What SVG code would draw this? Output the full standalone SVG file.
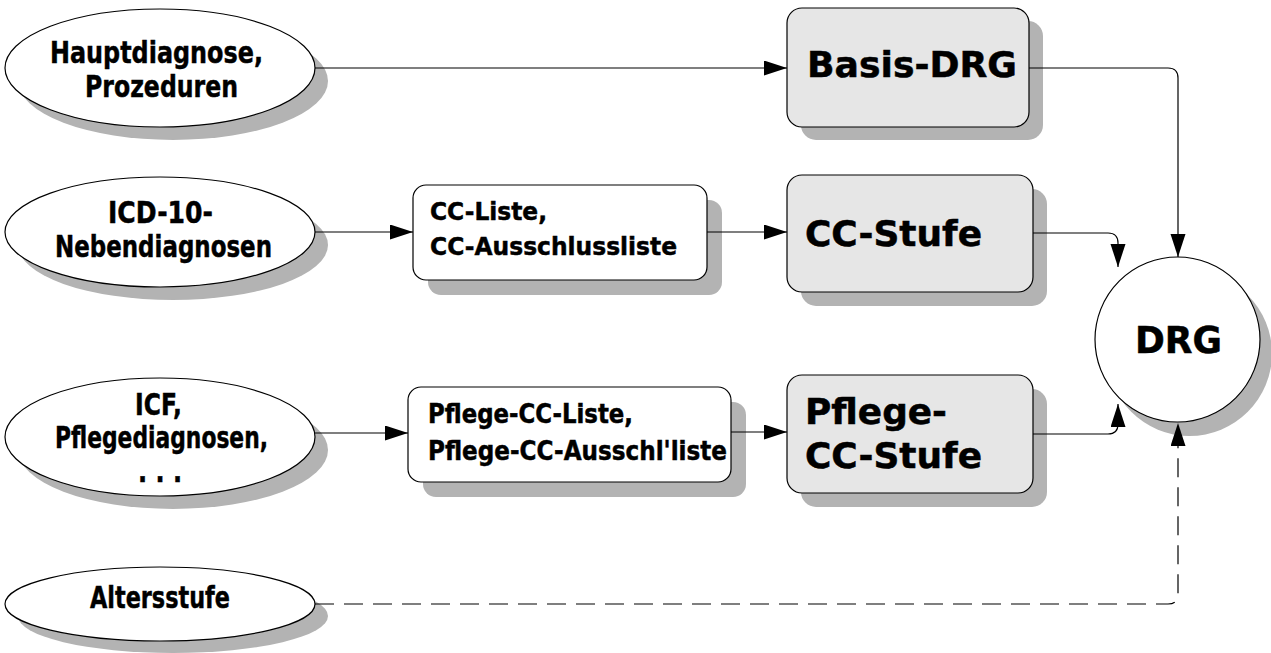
<svg xmlns="http://www.w3.org/2000/svg" width="1271" height="653" viewBox="0 0 1271 653">
<style>
.sh{fill:#b3b3b3;stroke:none}
.nd{stroke:#000;stroke-width:1.2}
.w{fill:#fff}
.g{fill:#e6e6e6}
.t{font-family:"DejaVu Sans","Liberation Sans",sans-serif;font-weight:bold;fill:#000;stroke:#000;stroke-width:0.5}
.s31{font-size:31px}
.s25{font-size:25px}
.s26{font-size:26px}
.s35{font-size:35px}
.c{fill:none;stroke:#000;stroke-width:1.2}
.d{stroke-dasharray:19 10}
</style>
<defs>
<marker id="ah" markerUnits="userSpaceOnUse" markerWidth="24" markerHeight="16" refX="23" refY="7.5" orient="auto">
<path d="M0,0 L23,7.5 L0,15 Z" fill="#000"/>
</marker>
</defs>
<g id="n-hauptdiagnose">
<ellipse class="sh" cx="173" cy="81" rx="155" ry="59"/>
<ellipse class="nd w" cx="160" cy="68" rx="155" ry="59"/>
<text class="t s31" x="50" y="63" textLength="213" lengthAdjust="spacingAndGlyphs">Hauptdiagnose,</text>
<text class="t s31" x="85" y="97" textLength="153" lengthAdjust="spacingAndGlyphs">Prozeduren</text>
</g>
<g id="n-icd10">
<ellipse class="sh" cx="173" cy="245" rx="155" ry="55"/>
<ellipse class="nd w" cx="160" cy="232" rx="155" ry="55"/>
<text class="t s31" x="108" y="223" textLength="105" lengthAdjust="spacingAndGlyphs">ICD-10-</text>
<text class="t s31" x="55" y="257" textLength="217" lengthAdjust="spacingAndGlyphs">Nebendiagnosen</text>
</g>
<g id="n-icf">
<ellipse class="sh" cx="173" cy="450" rx="155" ry="59"/>
<ellipse class="nd w" cx="160" cy="437" rx="155" ry="59"/>
<text class="t s31" x="135" y="415" textLength="47" lengthAdjust="spacingAndGlyphs">ICF,</text>
<text class="t s31" x="55" y="448" textLength="213" lengthAdjust="spacingAndGlyphs">Pflegediagnosen,</text>
<text class="t s31" x="138" y="482" textLength="44" lengthAdjust="spacingAndGlyphs">. . .</text>
</g>
<g id="n-altersstufe">
<ellipse class="sh" cx="173" cy="616" rx="155" ry="37"/>
<ellipse class="nd w" cx="160" cy="604" rx="155" ry="37"/>
<text class="t s31" x="90" y="608" textLength="140" lengthAdjust="spacingAndGlyphs">Altersstufe</text>
</g>
<g id="n-basis-drg">
<rect class="sh" x="801" y="21" width="242" height="119" rx="15"/>
<rect class="nd g" x="787" y="8" width="242" height="119" rx="15"/>
<text class="t s35" x="807" y="77" textLength="210" lengthAdjust="spacingAndGlyphs">Basis-DRG</text>
</g>
<g id="n-cc-liste">
<rect class="sh" x="428" y="200" width="294" height="95" rx="13"/>
<rect class="nd w" x="413" y="185" width="294" height="95" rx="13"/>
<text class="t s25" x="430" y="220" textLength="117" lengthAdjust="spacingAndGlyphs">CC-Liste,</text>
<text class="t s25" x="430" y="255" textLength="247" lengthAdjust="spacingAndGlyphs">CC-Ausschlussliste</text>
</g>
<g id="n-cc-stufe">
<rect class="sh" x="801" y="189" width="246" height="117" rx="15"/>
<rect class="nd g" x="787" y="175" width="246" height="117" rx="15"/>
<text class="t s35" x="805" y="246" textLength="177" lengthAdjust="spacingAndGlyphs">CC-Stufe</text>
</g>
<g id="n-pflege-cc-liste">
<rect class="sh" x="423" y="402" width="323" height="95" rx="13"/>
<rect class="nd w" x="408" y="387" width="323" height="95" rx="13"/>
<text class="t s26" x="428" y="423" textLength="205" lengthAdjust="spacingAndGlyphs">Pflege-CC-Liste,</text>
<text class="t s26" x="428" y="460" textLength="299" lengthAdjust="spacingAndGlyphs">Pflege-CC-Ausschl'liste</text>
</g>
<g id="n-pflege-cc-stufe">
<rect class="sh" x="801" y="389" width="246" height="118" rx="15"/>
<rect class="nd g" x="787" y="375" width="246" height="118" rx="15"/>
<text class="t s35" x="805" y="424" textLength="142" lengthAdjust="spacingAndGlyphs">Pflege-</text>
<text class="t s35" x="805" y="468" textLength="177" lengthAdjust="spacingAndGlyphs">CC-Stufe</text>
</g>
<g id="n-drg">
<circle class="sh" cx="1189.5" cy="353.5" r="82.5"/>
<circle class="nd w" cx="1177.5" cy="339.5" r="82.5"/>
<text class="t" x="1135" y="353" font-size="37" textLength="87" lengthAdjust="spacingAndGlyphs">DRG</text>
</g>
<g id="connectors">
<path class="c" d="M315,68 H787" marker-end="url(#ah)"/>
<path class="c" d="M315,232 H413" marker-end="url(#ah)"/>
<path class="c" d="M707,232 H787" marker-end="url(#ah)"/>
<path class="c" d="M315,433 H408" marker-end="url(#ah)"/>
<path class="c" d="M731,432 H787" marker-end="url(#ah)"/>
<path class="c" d="M1029,68 H1168 Q1178,68 1178,78 V257" marker-end="url(#ah)"/>
<path class="c" d="M1033,233 H1108 Q1118,233 1118,243 V267" marker-end="url(#ah)"/>
<path class="c" d="M1033,434 H1108 Q1118,434 1118,424 V404" marker-end="url(#ah)"/>
<path class="c d" d="M315,604 H1168 Q1178,604 1178,594 V423" marker-end="url(#ah)"/>
</g>
</svg>
